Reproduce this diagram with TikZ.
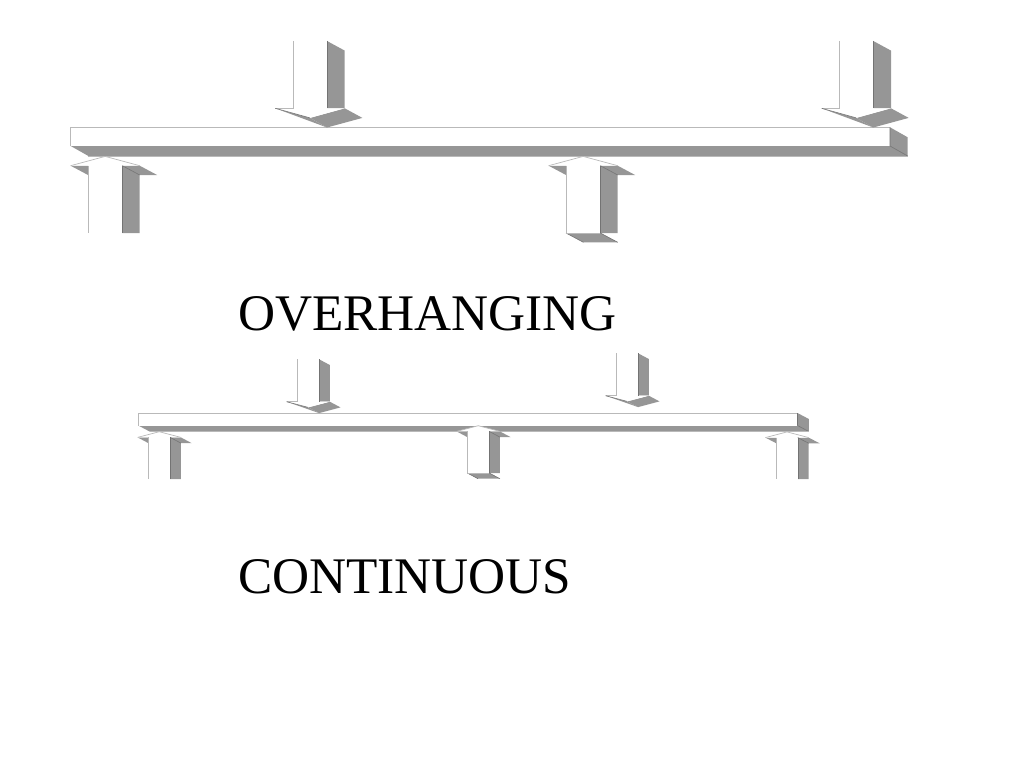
\documentclass[tikz,border=0pt]{standalone}
\usepackage{fontspec}
\setmainfont{Liberation Serif}
\definecolor{shade}{HTML}{969696}
\tikzset{
  litedge/.style={draw=gray!55,line width=0.7pt},
  darkface/.style={fill=shade,draw=none},
  darkedge/.style={draw=black!55,line width=0.6pt},
  label/.style={anchor=base west,inner sep=0pt,outer sep=0pt,font=\fontsize{51.3}{51.3}\selectfont}
}
% #1 shaft left x, #2 shaft top y, #3 shaft bottom y, #4 shaft width, #5 depth x, #6 depth y
\newcommand{\loaddown}[6]{
  \begin{scope}[shift={(#1,#3)}]
    \def\wd{#4}\def\dpx{#5}\def\dpy{#6}\def\tp{#2-#3}
    \path[darkface] (\wd,\tp) -- ({\wd+\dpx},{\tp+\dpy}) -- ({\wd+\dpx},0) -- (\wd,0) -- cycle;
    \path[darkface] (-\dpx,0) -- ({\wd/2},\dpy) -- (\wd,{2*\dpy}) -- cycle;
    \path[darkface] ({\wd/2},\dpy) -- ({\wd+\dpx},0) -- ({\wd+2*\dpx},\dpy) -- (\wd,{2*\dpy}) -- cycle;
    \path[fill=white] (0,\tp) -- (\wd,\tp) -- (\wd,0) -- ({\wd+\dpx},0) -- ({\wd/2},\dpy) -- (-\dpx,0) -- (0,0) -- cycle;
    \draw[litedge] (0,\tp) -- (0,0) -- (-\dpx,0);
    \draw[darkedge] (-\dpx,0) -- ({\wd/2},\dpy);
    \draw[darkedge] (\wd,\tp) -- (\wd,0);
  \end{scope}
}
% #1 shaft left x, #2 tip y, #3 shaft bottom y, #4 shaft width, #5 depth x, #6 depth y, #7 1 = end face drawn
\newcommand{\loadup}[7]{
  \begin{scope}[shift={(#1,#2)}]
    \def\wd{#4}\def\dpx{#5}\def\dpy{#6}\def\bt{#3-#2}
    \ifnum#7=1
      \path[darkface] (0,\bt) -- (\wd,\bt) -- ({\wd+\dpx},{\bt+\dpy}) -- (\dpx,{\bt+\dpy}) -- cycle;
      \draw[darkedge] (\wd,\bt) -- ({\wd+\dpx},{\bt+\dpy});
      \draw[darkedge] (0,\bt) -- (\dpx,{\bt+\dpy});
    \fi
    \path[darkface] (\wd,\dpy) -- ({\wd+\dpx},{2*\dpy}) -- ({\wd+\dpx},\bt) -- (\wd,\bt) -- cycle;
    \path[darkface] (\wd,\dpy) -- ({\wd+\dpx},\dpy) -- ({\wd+2*\dpx},{2*\dpy}) -- ({\wd+\dpx},{2*\dpy}) -- cycle;
    \path[darkface] (-\dpx,\dpy) -- (0,\dpy) -- (0,{2*\dpy}) -- cycle;
    \path[fill=white] ({\wd/2},0) -- ({\wd+\dpx},\dpy) -- (\wd,\dpy) -- (\wd,\bt) -- (0,\bt) -- (0,\dpy) -- (-\dpx,\dpy) -- cycle;
    \draw[litedge] (-\dpx,\dpy) -- ({\wd/2},0) -- ({\wd+\dpx},\dpy);
    \draw[litedge] (0,\dpy) -- (0,\bt);
    \ifnum#7=1 \draw[litedge] (0,\bt) -- (\wd,\bt); \fi
    \draw[darkedge] (\wd,\dpy) -- (\wd,\bt);
    \draw[darkedge] (\wd,\dpy) -- ({\wd+\dpx},{2*\dpy});
  \end{scope}
}
% #1 left x, #2 right x, #3 top y, #4 front bottom y, #5 depth x, #6 depth y
\newcommand{\beamshape}[6]{
  \path[darkface] (#1,#4) -- (#2,#4) -- ({#2+#5},{#4+#6}) -- ({#1+#5},{#4+#6}) -- cycle;
  \path[darkface] (#2,#3) -- ({#2+#5},{#3+#6}) -- ({#2+#5},{#4+#6}) -- (#2,#4) -- cycle;
  \path[fill=white] (#1,#3) rectangle (#2,#4);
  \draw[litedge] (#1,#4) -- (#1,#3) -- (#2,#3);
  \draw[darkedge] (#2,#3) -- (#2,#4) -- ({#2+#5},{#4+#6});
  \draw[litedge] ({#1+#5},{#4+#6}) -- ({#2+#5},{#4+#6});
}
\begin{document}
\begin{tikzpicture}[x=1pt,y=-1pt]
  \useasboundingbox (0,0) rectangle (1024,768);
  \beamshape{70.7}{890}{127.3}{146}{17.7}{10}
  \loaddown{293}{41}{108.3}{34}{17.7}{9.6}
  \loaddown{839.3}{41}{108.3}{34}{17.7}{9.6}
  \loadup{88}{156.4}{233}{34.3}{17.4}{9.3}{0}
  \loadup{566}{156.4}{233}{34.3}{17.4}{9.3}{1}
  \node[label] (overhanging) at (238,330) {OVERHANGING};
  \beamshape{138.3}{797.5}{413}{425.5}{11.3}{6}
  \loaddown{297.3}{359.3}{401.7}{21.8}{10.7}{5.7}
  \loaddown{616.3}{353.3}{395.7}{21.8}{10.7}{5.7}
  \loadup{148.3}{431.7}{479}{21.9}{10.7}{5.7}{0}
  \loadup{467.3}{425.7}{473}{21.9}{10.7}{5.7}{1}
  \loadup{776.3}{431.9}{479}{21.5}{10.9}{5.7}{0}
  \node[label] (continuous) at (238,593) {CONTINUOUS};
\end{tikzpicture}
\end{document}
